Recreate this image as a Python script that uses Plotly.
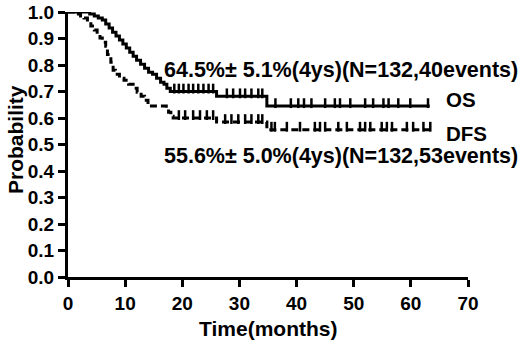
import numpy as np
import plotly.graph_objects as go

# ---- data ----
os_time = [0, 3.8, 4.6, 5.3, 6.0, 6.6, 7.2, 7.8, 8.4, 9.0, 9.6, 10.2, 10.8, 11.4, 12.0,
           12.7, 13.4, 14.1, 14.8, 15.5, 16.2, 16.8, 17.3, 17.9, 26.0, 34.8, 63.3]
os_surv = [1.0, 0.992, 0.985, 0.977, 0.970, 0.955, 0.940, 0.924, 0.909, 0.894, 0.879, 0.864,
           0.848, 0.833, 0.818, 0.803, 0.788, 0.773, 0.765, 0.750, 0.735, 0.727, 0.712, 0.700,
           0.682, 0.645, 0.645]
os_censor = [18.6, 19.4, 20.2, 21.1, 21.9, 22.8, 23.7, 24.6, 25.4, 27.8, 28.9, 30.1, 31.0,
             32.1, 33.3, 34.0, 36.3, 39.0, 40.3, 41.3, 42.6, 45.0, 46.7, 47.6, 49.4, 52.0,
             53.4, 55.2, 56.1, 57.8, 59.9, 63.0]

dfs_time = [0, 1.5, 2.2, 2.8, 3.4, 4.0, 4.6, 5.1, 5.6, 6.0, 6.6, 6.9, 7.5, 7.9, 8.3, 9.0,
            9.8, 10.6, 11.4, 12.1, 12.8, 13.4, 14.0, 14.6, 17.2, 17.6, 18.0, 18.4, 26.0,
            34.8, 63.4]
dfs_surv = [1.0, 0.992, 0.985, 0.977, 0.962, 0.947, 0.932, 0.917, 0.902, 0.886, 0.871, 0.840,
            0.810, 0.780, 0.765, 0.750, 0.742, 0.727, 0.712, 0.697, 0.682, 0.667, 0.652, 0.645,
            0.637, 0.622, 0.607, 0.600, 0.585, 0.556, 0.556]
dfs_censor = [19.4, 20.5, 21.9, 23.1, 24.3, 25.4, 27.5, 28.6, 29.8, 31.0, 32.1, 33.3, 34.0,
              35.6, 36.2, 38.3, 40.6, 43.2, 44.1, 45.0, 47.3, 48.8, 51.1, 52.0, 52.9, 54.9,
              55.8, 56.7, 59.3, 60.4, 62.2, 63.4]

x_ticks = [0, 10, 20, 30, 40, 50, 60, 70]
y_ticks = [0.0, 0.1, 0.2, 0.3, 0.4, 0.5, 0.6, 0.7, 0.8, 0.9, 1.0]

os_label = "64.5%\u00b1 5.1%(4ys)(N=132,40events)"
dfs_label = "55.6%\u00b1 5.0%(4ys)(N=132,53events)"


def step_at(times, surv, t):
    idx = np.searchsorted(np.array(times), np.array(t), side="right") - 1
    return np.array(surv)[idx]


FONT = "Liberation Sans, Arial, sans-serif"
fig = go.Figure()

fig.add_trace(go.Scatter(x=os_time, y=os_surv, mode="lines", line_shape="hv",
                         line=dict(color="black", width=3), cliponaxis=False,
                         showlegend=False, hoverinfo="skip"))
fig.add_trace(go.Scatter(x=dfs_time, y=dfs_surv, mode="lines", line_shape="hv",
                         line=dict(color="black", width=3, dash="7px,4px"),
                         cliponaxis=False, showlegend=False, hoverinfo="skip"))

tick_off = 0.011
fig.add_trace(go.Scatter(x=os_censor, y=step_at(os_time, os_surv, os_censor) + tick_off,
                         mode="markers", cliponaxis=False, showlegend=False, hoverinfo="skip",
                         marker=dict(symbol="line-ns", size=7,
                                     line=dict(color="black", width=2.5))))
fig.add_trace(go.Scatter(x=dfs_censor, y=step_at(dfs_time, dfs_surv, dfs_censor) + tick_off,
                         mode="markers", cliponaxis=False, showlegend=False, hoverinfo="skip",
                         marker=dict(symbol="line-ns", size=7,
                                     line=dict(color="black", width=2.5))))

bold = dict(family=FONT, size=21.5, color="black", weight="bold")
small_bold = dict(family=FONT, size=20.5, color="black", weight="bold")
fig.add_annotation(x=16.6, y=0.781, text=os_label, showarrow=False, xanchor="left",
                   yanchor="middle", font=bold, borderpad=0)
fig.add_annotation(x=66.0, y=0.668, text="OS", showarrow=False, xanchor="left",
                   yanchor="middle", font=small_bold, borderpad=0)
fig.add_annotation(x=66.0, y=0.540, text="DFS", showarrow=False, xanchor="left",
                   yanchor="middle", font=small_bold, borderpad=0)
fig.add_annotation(x=16.6, y=0.455, text=dfs_label, showarrow=False, xanchor="left",
                   yanchor="middle", font=bold, borderpad=0)

# axis titles
fig.add_annotation(xref="paper", yref="paper", x=(267.5 - 68) / 400, y=(277 - 328) / 265,
                   text="Time(months)", showarrow=False, xanchor="center", yanchor="middle",
                   font=dict(family=FONT, size=21, color="black", weight="bold"))
fig.add_annotation(xref="paper", yref="paper", x=(15 - 68) / 400, y=(277 - 140) / 265,
                   text="Probability", showarrow=False, xanchor="center", yanchor="middle",
                   textangle=-90,
                   font=dict(family=FONT, size=21, color="black", weight="bold"))

axis_common = dict(showgrid=False, zeroline=False, showline=True, linecolor="black",
                   linewidth=3, ticks="outside", tickwidth=3, ticklen=7, tickcolor="black",
                   automargin=False,
                   tickfont=dict(family=FONT, size=19, color="black", weight="bold"))
fig.update_xaxes(range=[0, 70], tickvals=x_ticks, **axis_common)
fig.update_yaxes(range=[0, 1.0], tickvals=y_ticks, tickformat=".1f", **axis_common)

fig.update_layout(width=520, height=345, margin=dict(l=68, r=52, t=12, b=68),
                  plot_bgcolor="white", paper_bgcolor="white", hovermode=False)

fig.write_html("out.html", config={"displayModeBar": False, "staticPlot": True},
               post_script="document.body.style.margin='0';document.body.style.overflow='hidden';")
